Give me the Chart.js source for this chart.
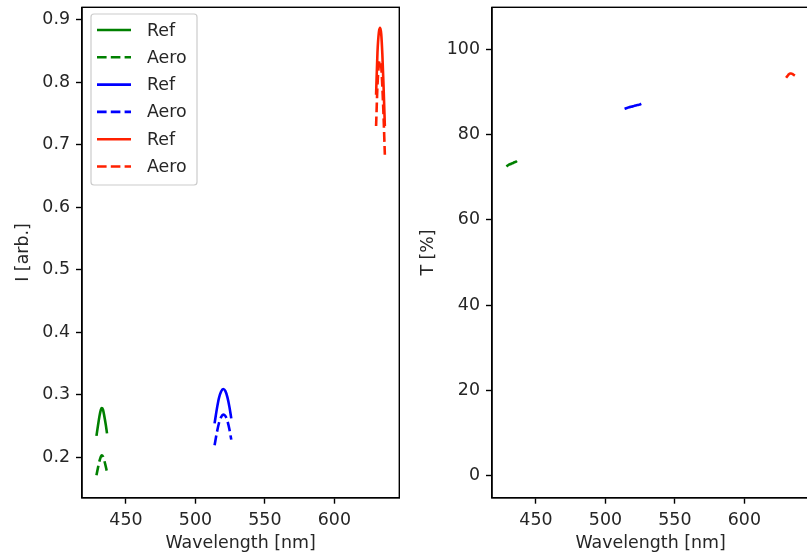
<!DOCTYPE html>
<html>
  <head>
    <title>Ref vs Aero</title>
    <script src="https://cdn.jsdelivr.net/npm/chart.js"></script>
    <style>
      body { margin: 0; width: 807px; height: 556px; overflow: hidden; background: #fff; position: relative; }
      .box { position: absolute; top: 0; height: 556px; }
    </style>
  </head>
  <body>
    <div class="box" style="left:0;width:410px"><canvas id="left" width="410" height="556"></canvas></div>
    <div class="box" style="left:410px;width:410px"><canvas id="right" width="410" height="556"></canvas></div>

    <script>
      // values
      const wlGreen = [428.8, 430, 431, 432, 432.6, 433.5, 434.5, 435.5, 436.4];
      const refGreen = [0.234, 0.252, 0.266, 0.276, 0.2785, 0.276, 0.265, 0.252, 0.238];
      const aeroGreen = [0.171, 0.184, 0.194, 0.201, 0.203, 0.201, 0.194, 0.185, 0.176];
      const tGreen = [72.5, 72.8, 73.0, 73.1, 73.2, 73.3, 73.5, 73.6, 73.8];

      const wlBlue = [513.8, 515.5, 517, 518.5, 520, 521.5, 523, 524.5, 525.8];
      const refBlue = [0.254, 0.278, 0.295, 0.305, 0.309, 0.306, 0.296, 0.280, 0.262];
      const aeroBlue = [0.219, 0.240, 0.255, 0.264, 0.268, 0.266, 0.258, 0.244, 0.228];
      const tBlue = [86.0, 86.2, 86.4, 86.5, 86.6, 86.8, 86.9, 87.0, 87.2];

      const wlRed = [630.0, 631.0, 632.0, 632.9, 633.7, 634.5, 635.4, 636.3];
      const refRed = [0.780, 0.848, 0.880, 0.887, 0.877, 0.845, 0.792, 0.730];
      const aeroRed = [0.730, 0.795, 0.828, 0.835, 0.825, 0.793, 0.744, 0.684];
      const tRed = [93.3, 93.7, 94.1, 94.3, 94.3, 94.2, 94.0, 93.8];

      const xTicks = [450, 500, 550, 600];
      const iTicks = [0.2, 0.3, 0.4, 0.5, 0.6, 0.7, 0.8, 0.9];
      const tTicks = [0, 20, 40, 60, 80, 100];

      const GREEN = '#008000', BLUE = '#0000ff', RED = '#ff2000';
      const DASH = [9.6, 4.2];
      const FONT = { family: 'DejaVu Sans', size: 17.4 };
      const TXT = '#262626';

      function pts(xs, ys) {
        return xs.map((x, i) => ({ x: x, y: ys[i] }));
      }

      function line(label, xs, ys, color, dashed) {
        return {
          label: label,
          data: pts(xs, ys),
          borderColor: color,
          borderWidth: 2.6,
          borderDash: dashed ? DASH : [],
          pointRadius: 0,
          cubicInterpolationMode: 'monotone',
          fill: false
        };
      }

      // box around the plot area, like matplotlib spines
      const frame = {
        id: 'frame',
        afterDraw(chart) {
          const a = chart.chartArea, ctx = chart.ctx;
          ctx.save();
          ctx.strokeStyle = '#000';
          ctx.lineWidth = 1.4;
          ctx.strokeRect(a.left, a.top, a.right - a.left, a.bottom - a.top);
          ctx.restore();
        }
      };

      const legendBox = {
        id: 'legendBox',
        afterDraw(chart) {
          const ctx = chart.ctx;
          ctx.save();
          ctx.fillStyle = 'rgba(255,255,255,0.8)';
          ctx.strokeStyle = '#cccccc';
          ctx.lineWidth = 1.2;
          ctx.beginPath();
          ctx.roundRect(91, 14, 106, 171, 3);
          ctx.fill();
          ctx.stroke();
          ctx.font = '17.4px "DejaVu Sans"';
          ctx.textBaseline = 'middle';
          chart.data.datasets.forEach((ds, i) => {
            const y = 30 + i * 27.3;
            ctx.strokeStyle = ds.borderColor;
            ctx.lineWidth = 2.6;
            ctx.setLineDash(ds.borderDash);
            ctx.beginPath();
            ctx.moveTo(97, y);
            ctx.lineTo(131, y);
            ctx.stroke();
            ctx.setLineDash([]);
            ctx.fillStyle = TXT;
            ctx.fillText(ds.label, 147, y + 1);
          });
          ctx.restore();
        }
      };

      function scales(yMin, yMax, yTicks, yTitle, yTitlePad, fmt) {
        return {
          x: {
            type: 'linear',
            min: 418.4,
            max: 646.7,
            afterBuildTicks: s => { s.ticks = xTicks.map(v => ({ value: v })); },
            afterFit: s => { s.height = 58.3; s.paddingLeft = 0; s.paddingRight = 0; },
            ticks: { font: FONT, color: TXT, padding: 6, maxRotation: 0 },
            grid: { drawOnChartArea: false, drawTicks: true, tickLength: 6, tickWidth: 1.4, tickColor: '#000' },
            border: { display: true, color: '#000', width: 1.4 },
            title: { display: true, text: 'Wavelength [nm]', font: FONT, color: TXT, padding: { top: 0, bottom: 2.5 } }
          },
          y: {
            type: 'linear',
            min: yMin,
            max: yMax,
            afterBuildTicks: s => { s.ticks = yTicks.map(v => ({ value: v })); },
            afterFit: s => { s.width = 82; s.paddingTop = 0; s.paddingBottom = 0; },
            ticks: { font: FONT, color: TXT, padding: 6, callback: fmt },
            grid: { drawOnChartArea: false, drawTicks: true, tickLength: 6, tickWidth: 1.4, tickColor: '#000' },
            border: { display: true, color: '#000', width: 1.4 },
            title: { display: true, text: yTitle, font: FONT, color: TXT, padding: { top: yTitlePad, bottom: 0 } }
          }
        };
      }

      const common = {
        responsive: false,
        animation: false,
        devicePixelRatio: 1,
        layout: { padding: { left: 0, right: 10.7, top: 7.3, bottom: 0 } },
        plugins: { legend: { display: false }, tooltip: { enabled: false } }
      };

      new Chart(document.getElementById('left').getContext('2d'), {
        type: 'line',
        data: {
          datasets: [
            line('Ref', wlGreen, refGreen, GREEN, false),
            line('Aero', wlGreen, aeroGreen, GREEN, true),
            line('Ref', wlBlue, refBlue, BLUE, false),
            line('Aero', wlBlue, aeroBlue, BLUE, true),
            line('Ref', wlRed, refRed, RED, false),
            line('Aero', wlRed, aeroRed, RED, true)
          ]
        },
        options: Object.assign({}, common, {
          scales: scales(0.135, 0.920, iTicks, 'I [arb.]', 13, v => v.toFixed(1))
        }),
        plugins: [frame, legendBox]
      });

      new Chart(document.getElementById('right').getContext('2d'), {
        type: 'line',
        data: {
          datasets: [
            line('T', wlGreen, tGreen, GREEN, false),
            line('T', wlBlue, tBlue, BLUE, false),
            line('T', wlRed, tRed, RED, false)
          ]
        },
        options: Object.assign({}, common, {
          scales: scales(-5.1, 109.8, tTicks, 'T [%]', 8, v => String(v))
        }),
        plugins: [frame]
      });
    </script>
  </body>
</html>
